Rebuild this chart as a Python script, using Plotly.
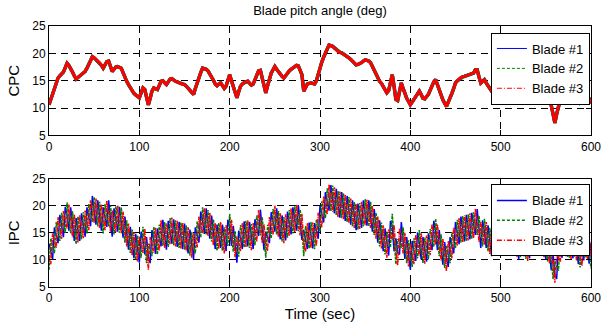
import plotly.graph_objects as go

# time axis (s), 2-s sampling
time_s = list(range(0, 601, 2))

# CPC: collective pitch, all three blades practically identical (deg)
cpc = [
    10.6,11.6,12.5,13.6,14.6,15.5,15.9,16.3,16.6,17.4,18.2,17.8,17.3,16.6,15.9,
    15.3,15.6,15.9,16.2,16.4,16.7,17.3,17.9,18.6,19.4,19.2,18.9,18.6,18.3,17.8,
    17.3,17.9,18.5,18.6,17.6,16.7,17.1,17.5,17.6,17.4,17.3,16.5,15.6,14.9,14.3,
    13.7,13.2,12.7,12.4,12.1,11.9,12.8,13.7,13.4,11.8,10.6,11.8,13.1,13.7,13.5,
    13.4,14.1,14.9,15.0,14.6,14.3,14.8,15.3,15.4,15.1,14.9,14.8,14.6,14.5,14.4,
    14.3,14.0,13.6,13.2,12.8,12.5,13.6,14.7,15.6,16.5,17.3,17.2,17.1,16.8,16.3,
    15.8,15.1,14.4,14.1,14.4,14.6,14.1,13.6,14.0,15.0,16.1,15.0,13.9,12.9,11.9,
    13.0,14.0,14.4,14.7,14.8,14.9,14.6,14.2,14.4,15.1,15.8,16.8,16.9,15.5,14.2,
    12.8,14.1,15.5,16.4,17.0,17.6,17.1,16.6,16.2,15.8,15.5,16.0,16.5,16.8,17.1,
    17.3,17.5,17.8,17.7,16.9,16.1,13.1,13.9,14.4,14.5,14.6,14.5,14.4,15.0,16.3,
    17.6,18.4,19.3,20.1,20.8,21.5,21.4,21.3,21.0,20.7,20.3,20.2,20.1,19.9,19.6,
    19.4,19.2,18.9,18.6,18.3,17.9,18.0,18.1,18.3,18.6,18.8,18.7,18.6,18.3,17.6,
    17.0,16.3,15.6,14.9,14.5,14.0,13.4,12.8,13.2,14.8,16.1,14.0,11.6,11.4,13.4,
    14.6,13.6,12.6,11.8,11.2,10.6,11.1,11.6,12.2,12.7,13.1,12.5,11.8,11.7,12.1,
    12.5,13.3,14.2,14.8,15.2,14.2,13.1,12.3,11.5,10.9,10.3,11.1,11.8,12.7,13.6,
    14.6,15.0,15.3,15.6,15.7,15.8,15.9,16.0,16.2,16.3,16.4,17.0,17.0,15.7,14.6,
    14.9,15.2,14.6,14.0,13.5,13.1,13.5,13.8,14.0,13.8,14.0,13.6,13.2,13.6,14.1,
    14.5,14.1,13.7,13.3,12.9,12.5,12.9,13.3,13.1,12.6,12.2,12.7,13.2,13.7,14.1,
    14.5,14.1,13.7,13.3,12.9,12.5,12.1,11.7,10.5,8.9,7.3,8.9,10.4,12.0,12.8,
    13.2,13.1,13.0,12.8,12.5,12.7,13.0,12.3,11.6,11.0,11.3,12.3,12.8,12.3,11.7,
    10.8,
]
cpc_blade1 = cpc
cpc_blade2 = cpc
cpc_blade3 = cpc

# IPC: individual pitch, blades oscillate out of phase (deg)
ipc_blade1 = [
    13.0,11.6,10.1,16.0,14.6,13.1,18.3,16.3,14.2,19.8,18.2,15.4,19.7,16.6,13.5,
    17.7,15.6,13.5,18.6,16.4,14.3,19.7,17.9,16.2,21.8,19.2,16.5,21.0,18.3,15.4,
    19.7,17.9,16.1,21.0,17.6,14.3,19.5,17.5,15.2,19.8,17.3,14.1,18.0,14.9,11.9,
    16.1,13.2,10.3,14.8,12.1,9.5,15.2,13.7,11.0,14.2,10.6,9.4,15.5,13.7,11.1,
    15.8,14.1,12.5,17.4,14.6,11.9,17.2,15.3,13.0,17.5,14.9,12.4,17.0,14.5,12.0,
    16.7,14.0,11.2,15.6,12.8,10.1,16.0,14.7,13.2,18.9,17.3,14.8,19.5,16.8,13.9,
    18.2,15.1,12.0,16.5,14.4,12.2,16.5,13.6,11.6,17.4,16.1,12.6,16.3,12.9,9.5,
    15.4,14.0,12.0,17.1,14.8,12.5,17.0,14.2,12.0,17.5,15.8,14.4,19.3,15.5,11.8,
    15.2,14.1,13.1,18.8,17.0,15.2,19.5,16.6,13.8,18.2,15.5,13.6,18.9,16.8,14.7,
    19.7,17.5,15.4,20.1,16.9,13.7,15.5,13.9,12.0,16.9,14.6,12.1,16.8,15.0,13.9,
    20.0,18.4,16.9,22.5,20.8,19.1,23.8,21.3,18.6,23.1,20.3,17.8,22.5,19.9,17.2,
    21.8,19.2,16.5,21.0,18.3,15.5,20.4,18.1,15.9,21.0,18.8,16.3,21.0,18.3,15.2,
    19.4,16.3,13.2,17.3,14.5,11.6,15.8,12.8,10.8,17.2,16.1,11.6,14.0,11.4,11.0,
    17.0,13.6,10.2,14.2,11.2,8.2,13.5,11.6,9.8,15.1,13.1,10.1,14.2,11.7,9.7,
    14.9,13.3,11.8,17.2,15.2,11.8,15.5,12.3,9.1,13.3,10.3,8.7,14.2,12.7,11.2,
    17.0,15.0,12.9,18.0,15.7,13.4,18.3,16.0,13.8,18.7,16.4,14.6,19.4,15.7,12.2,
    17.3,15.2,12.2,16.4,13.5,10.7,15.9,13.8,11.6,16.2,14.0,11.2,15.6,13.6,11.7,
    16.9,14.1,11.3,15.7,12.9,10.1,15.3,13.3,10.7,15.0,12.2,10.3,15.6,13.7,11.7,
    16.9,14.1,11.3,15.7,12.9,10.1,14.5,11.7,8.1,11.3,7.3,6.5,12.8,12.0,10.4,
    15.6,13.1,10.6,15.2,12.5,10.3,15.4,12.3,9.2,13.4,11.3,9.9,15.2,12.3,9.3,
    13.2,
]
ipc_blade2 = [
    8.2,14.0,12.5,11.2,17.0,15.5,13.5,18.7,16.6,15.0,20.6,17.8,14.9,19.0,15.9,
    12.9,18.0,15.9,13.8,18.8,16.7,14.9,20.3,18.6,17.0,21.6,18.9,16.2,20.7,17.8,
    14.9,20.3,18.5,16.2,20.0,16.7,14.7,19.9,17.6,15.0,19.7,16.5,13.2,17.3,14.3,
    11.3,15.6,12.7,10.0,14.5,11.9,10.4,16.1,13.4,9.4,13.0,11.8,10.7,16.1,13.5,
    11.0,16.5,14.9,12.6,17.0,14.3,12.4,17.7,15.4,12.7,17.3,14.8,12.2,16.9,14.4,
    11.9,16.4,13.6,10.8,15.2,12.5,11.2,17.1,15.6,14.1,19.7,17.2,14.7,19.2,16.3,
    13.4,17.5,14.4,11.7,16.8,14.6,11.7,16.0,14.0,12.6,18.5,15.0,11.5,15.3,11.9,
    10.6,16.4,14.4,12.3,17.2,14.9,12.2,16.6,14.4,12.7,18.2,16.8,14.5,17.9,14.2,
    10.4,16.5,15.5,14.0,19.4,17.6,14.7,19.0,16.2,13.4,17.9,16.0,14.1,19.2,17.1,
    14.9,19.9,17.8,15.3,19.3,16.1,10.7,16.3,14.4,12.1,17.0,14.5,12.0,17.4,16.3,
    15.2,20.8,19.3,17.7,23.2,21.5,19.0,23.7,21.0,18.3,22.7,20.2,17.7,22.3,19.6,
    17.0,21.6,18.9,16.2,20.7,17.9,15.6,20.5,18.3,16.2,21.2,18.7,16.2,20.7,17.6,
    14.6,18.7,15.6,12.5,16.9,14.0,11.0,15.2,13.2,12.4,18.5,14.0,9.2,13.8,13.4,
    12.2,16.0,12.6,9.4,13.6,10.6,8.7,14.0,12.2,10.3,15.5,12.5,9.4,14.1,12.1,
    10.1,15.7,14.2,12.4,17.6,14.2,10.7,14.7,11.5,8.5,12.7,11.1,9.4,15.1,13.6,
    12.2,17.4,15.3,13.2,18.1,15.8,13.5,18.4,16.2,13.9,18.8,17.0,14.6,18.1,14.6,
    12.5,17.6,14.6,11.6,15.9,13.1,11.1,16.2,14.0,11.4,16.4,13.6,10.8,16.0,14.1,
    12.1,16.5,13.7,10.9,15.3,12.5,10.5,15.7,13.1,10.2,14.6,12.7,10.8,16.1,14.1,
    12.1,16.5,13.7,10.9,15.3,12.5,9.7,14.1,10.5,6.5,9.7,8.9,8.0,14.4,12.8,
    10.8,15.5,13.0,10.4,14.9,12.7,10.6,14.7,11.6,8.6,13.7,12.3,10.4,14.7,11.7,
    8.4,
]
ipc_blade3 = [
    10.6,9.2,14.9,13.6,12.2,17.9,15.9,13.9,19.0,17.4,15.8,20.2,17.3,14.2,18.3,
    15.3,13.2,18.3,16.2,14.0,19.1,17.3,15.5,21.0,19.4,16.8,21.3,18.6,15.9,20.2,
    17.3,15.5,20.9,18.6,15.2,19.1,17.1,15.1,20.0,17.4,14.9,18.9,15.6,12.5,16.7,
    13.7,10.8,15.1,12.4,9.7,14.3,12.8,11.3,15.8,11.8,8.2,14.2,13.1,11.3,15.9,
    13.4,11.7,17.3,15.0,12.2,16.7,14.8,12.9,17.8,15.1,12.5,17.2,14.6,12.1,16.8,
    14.3,11.6,16.0,13.2,10.4,14.9,13.6,12.3,18.0,16.5,14.9,19.6,17.1,14.4,18.7,
    15.8,12.7,16.8,14.1,12.0,17.0,14.1,11.2,16.4,15.0,13.7,17.4,13.9,10.5,14.3,
    13.0,11.6,16.8,14.7,12.4,17.3,14.6,11.8,16.8,15.1,13.4,19.2,16.9,13.1,16.6,
    12.8,11.7,17.9,16.4,14.6,20.0,17.1,14.2,18.6,15.8,13.1,18.4,16.5,14.4,19.5,
    17.3,15.1,20.2,17.7,14.5,18.5,13.1,11.5,16.8,14.5,12.2,16.9,14.4,12.6,18.7,
    17.6,16.0,21.7,20.1,18.4,23.9,21.4,18.9,23.4,20.7,17.9,22.6,20.1,17.5,22.0,
    19.4,16.8,21.3,18.6,15.9,20.3,18.0,15.7,20.7,18.6,16.4,21.1,18.6,15.9,20.0,
    17.0,13.9,18.0,14.9,12.1,16.4,13.4,10.4,15.6,14.8,13.7,16.4,11.6,9.0,15.8,
    14.6,11.2,15.0,11.8,8.8,13.0,11.1,9.2,14.6,12.7,10.7,14.9,11.8,9.3,14.5,
    12.5,10.9,16.6,14.8,12.8,16.6,13.1,9.9,13.9,10.9,7.9,13.5,11.8,10.3,16.0,
    14.6,12.6,17.7,15.6,13.3,18.2,15.9,13.6,18.6,16.3,14.0,19.4,17.0,13.3,17.0,
    14.9,12.8,17.0,14.0,11.1,15.5,13.5,11.4,16.4,13.8,11.6,16.0,13.2,11.2,16.5,
    14.5,11.7,16.1,13.3,10.5,14.9,12.9,10.9,15.5,12.6,9.8,15.1,13.2,11.3,16.5,
    14.5,11.7,16.1,13.3,10.5,14.9,12.1,9.3,12.9,8.9,5.8,11.3,10.4,9.6,15.2,
    13.2,10.7,15.4,12.8,10.1,15.1,13.0,9.9,14.0,11.0,8.9,14.7,12.8,9.9,14.1,
    10.8,
]

blade_names = ["Blade #1", "Blade #2", "Blade #3"]
blade_colors = ["#0000FF", "#008000", "#FF0000"]
legend_dash = ["solid", "3px,2px", "5px,2px,1px,2px"]
x_ticks = [0, 100, 200, 300, 400, 500, 600]
y_ticks = [5, 10, 15, 20, 25]

FONT = "Liberation Sans, Arial, sans-serif"
fig = go.Figure()

# ---- top: CPC
for name, col, ys, w in zip(blade_names, blade_colors,
                            [cpc_blade1, cpc_blade2, cpc_blade3], [3.4, 3.4, 3.0]):
    fig.add_trace(go.Scatter(x=time_s, y=ys, mode="lines", xaxis="x", yaxis="y",
                             line=dict(color=col, width=w), showlegend=False,
                             hoverinfo="skip"))
for name, col, d in zip(blade_names, blade_colors, legend_dash):
    fig.add_trace(go.Scatter(x=[None], y=[None], mode="lines", xaxis="x", yaxis="y",
                             name=name, line=dict(color=col, width=1, dash=d),
                             legend="legend"))

# ---- bottom: IPC
ipc_dash = ["solid", "3px,1px", "4px,1px,1px,1px"]
for name, col, ys, d in zip(blade_names, blade_colors,
                            [ipc_blade1, ipc_blade2, ipc_blade3], ipc_dash):
    fig.add_trace(go.Scatter(x=time_s, y=ys, mode="lines", xaxis="x2", yaxis="y2",
                             line=dict(color=col, width=1.5, dash=d), showlegend=False,
                             hoverinfo="skip"))
for name, col, d in zip(blade_names, blade_colors, legend_dash):
    fig.add_trace(go.Scatter(x=[None], y=[None], mode="lines", xaxis="x2", yaxis="y2",
                             name=name, line=dict(color=col, width=1.5, dash=d),
                             legend="legend2"))

axis_common = dict(showline=True, linecolor="black", linewidth=1, mirror="ticks",
                   ticks="inside", ticklen=5, tickcolor="black", showgrid=True,
                   gridcolor="black", gridwidth=1, griddash="7px,5px", zeroline=False,
                   automargin=False,
                   tickfont=dict(family=FONT, size=12, color="black"))

legend_common = dict(bgcolor="white", bordercolor="black", borderwidth=1,
                     font=dict(family=FONT, size=13, color="black"),
                     xanchor="right", yanchor="top", x=0.998, tracegroupgap=0,
                     itemwidth=30)

fig.update_layout(
    width=611, height=323,
    margin=dict(l=49, r=20, t=26, b=36),
    paper_bgcolor="white", plot_bgcolor="white",
    font=dict(family=FONT, color="black"),
    title=dict(text="Blade pitch angle (deg)", x=0.5, xref="paper", xanchor="center",
               y=1 - 10 / 323, yref="container", yanchor="middle", automargin=False,
               font=dict(family=FONT, size=13, color="black")),
    xaxis=dict(domain=[0, 1], anchor="y", range=[0, 600], tickvals=x_ticks, **axis_common),
    yaxis=dict(domain=[0.5805, 1], anchor="x", range=[5, 25], tickvals=y_ticks,
               title=dict(text="CPC", standoff=8, font=dict(family=FONT, size=15)),
               **axis_common),
    xaxis2=dict(domain=[0, 1], anchor="y2", range=[0, 600], tickvals=x_ticks,
                title=dict(text="Time (sec)", standoff=2, font=dict(family=FONT, size=15)),
                **axis_common),
    yaxis2=dict(domain=[0, 0.4153], anchor="x2", range=[5, 25], tickvals=y_ticks,
                title=dict(text="IPC", standoff=8, font=dict(family=FONT, size=15)),
                **axis_common),
    legend=dict(y=0.975, **legend_common),
    legend2=dict(y=0.393, **legend_common),
)

fig.write_html("out.html",
               config={"displayModeBar": False, "staticPlot": True},
               post_script="document.body.style.margin='0';document.body.style.padding='0';")
